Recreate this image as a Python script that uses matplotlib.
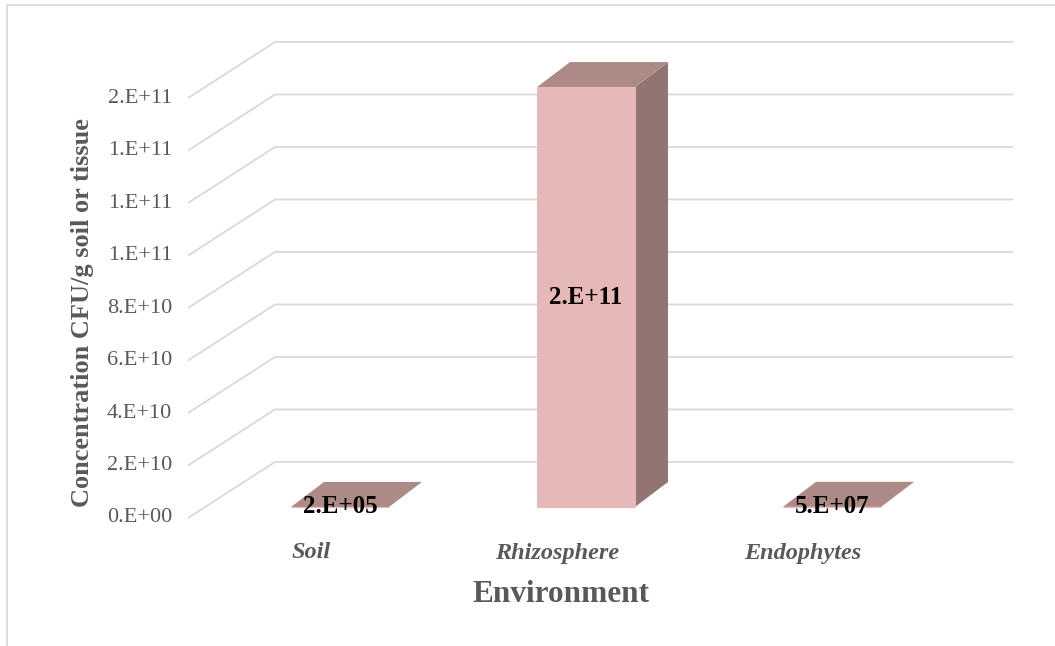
import matplotlib
matplotlib.use("Agg")
import matplotlib.pyplot as plt
from matplotlib.patches import Polygon
from matplotlib.lines import Line2D


categories = ["Soil", "Rhizosphere", "Endophytes"]
concentration = [2e5, 1.6e11, 5e7]
y_ticks = [0.0, 2e10, 4e10, 6e10, 8e10, 1.0e11, 1.2e11, 1.4e11, 1.6e11]

GRAY_TEXT = "#595959"
GRID = "#d9d9d9"
FRONT = "#e6b8b7"
TOP = "#ae8a87"
SIDE = "#927573"

# oblique projection, worked out in pixels and turned into data units
PX_PER_CAT = 246.0
PX_PER_VAL = 52.4 / 2e10
WALL_DEPTH = (87, 56)      # back wall shift (right, up)
BAR_FRONT = (29, 11)       # bar front face shift from the front plane
BAR_BACK = (62, 36)        # bar back face shift
BAR_WIDTH_PX = 98


def dx(px):
    return px / PX_PER_CAT


def dy(px):
    return px / PX_PER_VAL


def excel_sci(v):
    mant, exp = f"{v:.0e}".split("e")
    return f"{mant}.E{exp}"


def setup_style():
    plt.rcParams.update({
        "font.family": ["Liberation Serif", "DejaVu Serif"],
        "figure.facecolor": "white",
    })


def draw_walls(ax):
    wx, wy = dx(WALL_DEPTH[0]), dy(WALL_DEPTH[1])
    left, right = -0.5, len(categories) - 0.5
    for v in y_ticks:
        ax.plot([left, left + wx, right + wx], [v, v + wy, v + wy],
                color=GRID, linewidth=1.3, solid_capstyle="butt",
                clip_on=False, zorder=1)
        ax.annotate(excel_sci(v), xy=(left, v), xytext=(-16, 0),
                    textcoords="offset pixels", ha="right", va="center",
                    fontsize=16, color=GRAY_TEXT)


def draw_bars(ax):
    w = dx(BAR_WIDTH_PX) / 2
    fx, fy = dx(BAR_FRONT[0]), dy(BAR_FRONT[1])
    bx, by = dx(BAR_BACK[0]), dy(BAR_BACK[1])
    for i, v in enumerate(concentration):
        x0, x1 = i - w, i + w
        side = [(x1 + fx, fy), (x1 + bx, by), (x1 + bx, v + by), (x1 + fx, v + fy)]
        top = [(x0 + fx, v + fy), (x1 + fx, v + fy), (x1 + bx, v + by), (x0 + bx, v + by)]
        front = [(x0 + fx, fy), (x1 + fx, fy), (x1 + fx, v + fy), (x0 + fx, v + fy)]
        ax.add_patch(Polygon(side, closed=True, facecolor=SIDE, edgecolor="none",
                             clip_on=False, zorder=2))
        ax.add_patch(Polygon(top, closed=True, facecolor=TOP, edgecolor="none",
                             clip_on=False, zorder=2))
        ax.add_patch(Polygon(front, closed=True, facecolor=FRONT, edgecolor=FRONT,
                             linewidth=0.8, clip_on=False, zorder=3))
        ax.text(i + fx, v / 2 + fy, excel_sci(v), ha="center", va="center",
                fontsize=18, fontweight="bold", color="black", zorder=5)
        ax.annotate(categories[i], xy=(i, 0), xytext=(0, -35),
                    textcoords="offset pixels", ha="center", va="center",
                    fontsize=17.5, fontweight="bold", fontstyle="italic",
                    color=GRAY_TEXT)


def main():
    setup_style()
    fig = plt.figure(figsize=(10.55, 6.46), dpi=100)
    W, H = 1055, 646
    ax = fig.add_axes([188 / W, 128 / H, 825 / W, 476 / H])
    ax.set_xlim(-0.5, len(categories) - 0.5 + dx(WALL_DEPTH[0]))
    ax.set_ylim(0, y_ticks[-1] + dy(WALL_DEPTH[1]))
    ax.axis("off")

    draw_walls(ax)
    draw_bars(ax)

    fig.text(561 / W, 1 - 595 / H, "Environment", ha="center", va="center",
             fontsize=22.5, fontweight="bold", color=GRAY_TEXT)
    fig.text(83 / W, 1 - 313 / H, "Concentration CFU/g soil or tissue",
             ha="center", va="center", rotation=90, fontsize=19,
             fontweight="bold", color=GRAY_TEXT)

    # chart area outline (only top and left edges fall inside the image)
    fig.add_artist(Line2D([7 / W, 7 / W, 1.0], [0.0, 1 - 5 / H, 1 - 5 / H],
                          transform=fig.transFigure, color=GRID, linewidth=1.2))

    fig.savefig("out.png", dpi=100)
    plt.close(fig)


if __name__ == "__main__":
    main()
